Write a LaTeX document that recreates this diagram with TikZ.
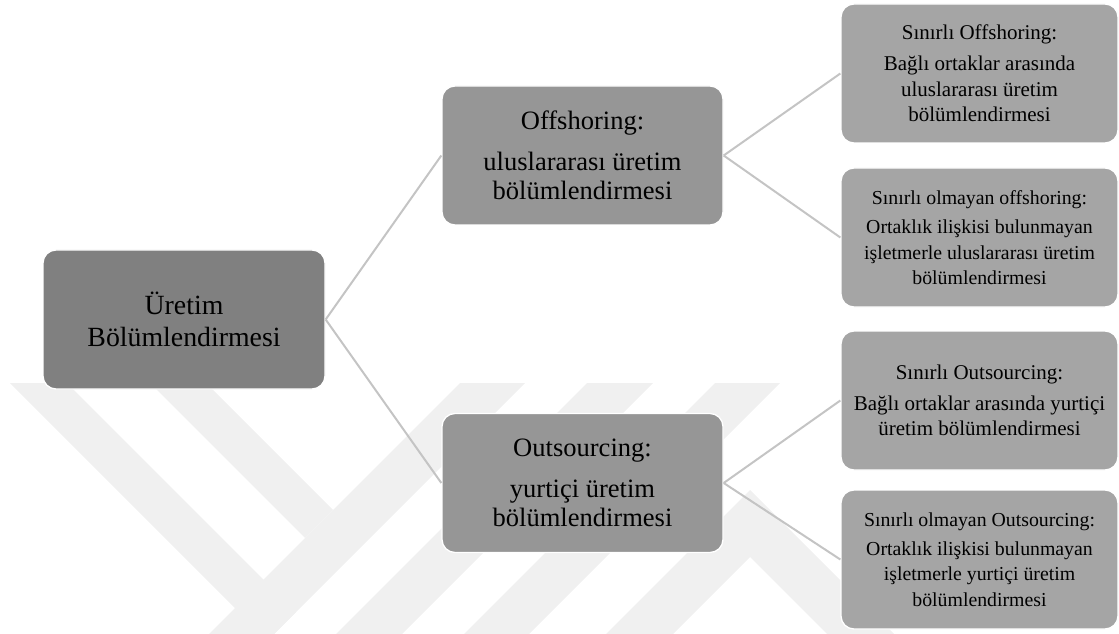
\documentclass[tikz,border=0pt]{standalone}
\usepackage{fontspec}
\setmainfont{Liberation Serif}
\definecolor{rootgray}{HTML}{808080}
\definecolor{midgray}{HTML}{969696}
\definecolor{leafgray}{HTML}{A5A5A5}
\definecolor{linkgray}{HTML}{C4C4C4}
\definecolor{markgray}{HTML}{F0F0F0}
\begin{document}
\begin{tikzpicture}[x=0.75pt, y=-0.75pt,
		box/.style={rounded corners=9.75pt, draw=white, line width=1pt, align=center, inner sep=0pt, minimum height=104.25pt},
		rootbox/.style={box, fill=rootgray, minimum width=211.5pt, font=\fontsize{20.85}{24}\selectfont},
		midbox/.style={box, fill=midgray, minimum width=210.75pt, font=\fontsize{19.9}{22}\selectfont},
		leafbox/.style={box, fill=leafgray, minimum width=207.75pt, font=\fontsize{15.75}{19.1}\selectfont},
		leafsmall/.style={font=\fontsize{14.85}{19}\selectfont},
		link/.style={draw=linkgray, line width=1.5pt}]
		\useasboundingbox (0,0) rectangle (1119,634);

		% Faint watermark in the background
		\begin{scope}
			\clip (0,383) rectangle (1119,634);
			\fill[markgray] (10,383) -- (67,383) -- (296,612) -- (267.5,640.5) -- cycle;
			\fill[markgray] (150,383) -- (206,383) -- (333,510) -- (305,538) -- cycle;
			\fill[markgray] (460,383) -- (525,383) -- (274,634) -- (209,634) -- cycle;
			\fill[markgray] (587,383) -- (653,383) -- (402,634) -- (336,634) -- cycle;
			\fill[markgray] (715,383) -- (780,383) -- (529,634) -- (464,634) -- cycle;
			\fill[markgray] (606,634) -- (750,490) -- (894,634) -- (827,634) -- (750,557) -- (673,634) -- cycle;
		\end{scope}

		% Root
		\node[rootbox] (root) at (184,319.5) {Üretim\\Bölümlendirmesi};

		% Second level
		\node[midbox] (off) at (582.5,155.5) {Offshoring:\\[8.5pt]uluslararası üretim\\bölümlendirmesi};
		\node[midbox] (out) at (582.5,483) {Outsourcing:\\[8.5pt]yurtiçi üretim\\bölümlendirmesi};

		% Third level
		\node[leafbox] (offA) at (979.5,73.5) {Sınırlı Offshoring:\\[4pt]Bağlı ortaklar arasında\\uluslararası üretim\\bölümlendirmesi};
		\node[leafbox, leafsmall] (offB) at (979.5,237.5) {Sınırlı olmayan offshoring:\\[3pt]Ortaklık ilişkisi bulunmayan\\işletmerle uluslararası üretim\\bölümlendirmesi};
		\node[leafbox] (outA) at (979.5,400.5) {Sınırlı Outsourcing:\\[4pt]Bağlı ortaklar arasında yurtiçi\\üretim bölümlendirmesi};
		\node[leafbox, leafsmall] (outB) at (979.5,559.5) {Sınırlı olmayan Outsourcing:\\[3pt]Ortaklık ilişkisi bulunmayan\\işletmerle yurtiçi üretim\\bölümlendirmesi};

		% Connectors
		\draw[link] (root.east) -- (off.west);
		\draw[link] (root.east) -- (out.west);
		\draw[link] (off.east) -- (offA.west);
		\draw[link] (off.east) -- (offB.west);
		\draw[link] (out.east) -- (outA.west);
		\draw[link] (out.east) -- (outB.west);

	\end{tikzpicture}
\end{document}
